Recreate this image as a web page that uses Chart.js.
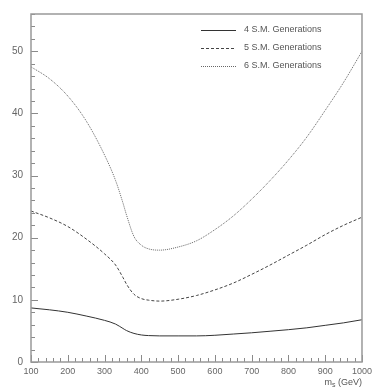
<!DOCTYPE html>
<html>
<head>
<meta charset="utf-8">
<script src="https://cdn.jsdelivr.net/npm/chart.js@4/dist/chart.umd.min.js"></script>
<style>
  body { margin: 0; background: #fff; }
  #wrap { width: 376px; height: 389px; }
</style>
</head>
<body>
<div id="wrap"><canvas id="myChart" width="376" height="389"></canvas></div>
<script>
// higgs mass points (GeV) and curves per number of generations
const massPoints = [100, 150, 200, 250, 300, 330, 350, 360, 380, 400, 420, 450, 500, 550, 600, 650, 700, 750, 800, 850, 900, 950, 1000];
const gen4 = [8.7, 8.4, 8.0, 7.4, 6.7, 6.1, 5.4, 5.05, 4.6, 4.35, 4.25, 4.2, 4.2, 4.2, 4.3, 4.5, 4.7, 4.95, 5.2, 5.5, 5.9, 6.3, 6.8];
const gen5 = [24.3, 23.2, 21.8, 19.8, 17.4, 15.6, 13.6, 12.5, 10.9, 10.2, 9.95, 9.8, 10.1, 10.7, 11.6, 12.7, 14.1, 15.6, 17.2, 18.8, 20.5, 22.0, 23.3];
const gen6 = [47.5, 45.6, 42.8, 38.8, 33.3, 29.2, 25.6, 23.6, 20.2, 18.8, 18.2, 18.0, 18.5, 19.5, 21.3, 23.5, 26.2, 29.2, 32.5, 36.2, 40.5, 45.0, 50.0];
const seriesLabels = ["4 S.M. Generations", "5 S.M. Generations", "6 S.M. Generations"];
const xTitle = "m";
const xTitleSub = "s";
const xTitleRest = " (GeV)";

const toPoints = (arr) => massPoints.map((m, i) => ({ x: m, y: arr[i] }));

const lineStyle = (label, data, color, dash) => ({
  label: label,
  data: toPoints(data),
  borderColor: color,
  borderWidth: 1,
  borderDash: dash,
  pointRadius: 0,
  fill: false,
  cubicInterpolationMode: "monotone",
});

// ticks pointing inward + frame + legend, root style
const rootStyle = {
  id: "rootStyle",
  afterDraw(chart) {
    const ctx = chart.ctx;
    const a = chart.chartArea;
    const xs = chart.scales.x;
    const ys = chart.scales.y;
    ctx.save();
    ctx.strokeStyle = "#8a8a8a";
    ctx.lineWidth = 1;
    for (let v = 100; v <= 1000; v += 20) {
      const px = Math.round(xs.getPixelForValue(v)) + 0.5;
      const len = v % 100 === 0 ? 7 : 4;
      ctx.beginPath();
      ctx.moveTo(px, a.bottom);
      ctx.lineTo(px, a.bottom - len);
      ctx.stroke();
    }
    for (let v = 0; v <= 56; v += 2) {
      const py = Math.round(ys.getPixelForValue(v)) + 0.5;
      const len = v % 10 === 0 ? 7 : 4;
      ctx.beginPath();
      ctx.moveTo(a.left, py);
      ctx.lineTo(a.left + len, py);
      ctx.stroke();
    }
    ctx.lineWidth = 1.5;
    ctx.strokeStyle = "#999";
    ctx.strokeRect(a.left, a.top, a.right - a.left, a.bottom - a.top);

    // legend
    ctx.font = "9px 'Liberation Sans'";
    ctx.textBaseline = "middle";
    chart.data.datasets.forEach((ds, i) => {
      const y = a.top + 16 + i * 18;
      ctx.strokeStyle = ds.borderColor;
      ctx.lineWidth = 1;
      ctx.setLineDash(ds.borderDash || []);
      ctx.beginPath();
      ctx.moveTo(a.left + 170, y + 0.5);
      ctx.lineTo(a.left + 205, y + 0.5);
      ctx.stroke();
      ctx.setLineDash([]);
      ctx.fillStyle = "#555";
      ctx.fillText(ds.label, a.left + 213, y);
    });

    // x axis title with subscript
    ctx.fillStyle = "#555";
    ctx.textBaseline = "alphabetic";
    ctx.textAlign = "left";
    const restW = ctx.measureText(xTitleRest).width;
    ctx.font = "7px 'Liberation Sans'";
    const subW = ctx.measureText(xTitleSub).width;
    ctx.font = "9px 'Liberation Sans'";
    const mW = ctx.measureText(xTitle).width;
    let tx = a.right - restW - subW - mW;
    const ty = a.bottom + 23;
    ctx.fillText(xTitle, tx, ty);
    ctx.font = "7px 'Liberation Sans'";
    ctx.fillText(xTitleSub, tx + mW, ty + 2);
    ctx.font = "9px 'Liberation Sans'";
    ctx.fillText(xTitleRest, tx + mW + subW, ty);
    ctx.restore();
  },
};

const ctx = document.getElementById("myChart").getContext("2d");
const myChart = new Chart(ctx, {
  type: "line",
  data: {
    datasets: [
      lineStyle(seriesLabels[0], gen4, "#333", []),
      lineStyle(seriesLabels[1], gen5, "#444", [3, 2]),
      lineStyle(seriesLabels[2], gen6, "#666", [1, 1]),
    ],
  },
  options: {
    responsive: false,
    animation: false,
    layout: { padding: { top: 9, right: 10, left: 0, bottom: 0 } },
    plugins: { legend: { display: false }, tooltip: { enabled: false } },
    scales: {
      x: {
        type: "linear",
        min: 100,
        max: 1000,
        grid: { display: false, drawTicks: false },
        border: { display: false },
        ticks: {
          stepSize: 100,
          includeBounds: false,
          maxRotation: 0,
          autoSkip: false,
          padding: 4,
          color: "#666",
          font: { family: "Liberation Sans", size: 9 },
          callback: (v) => String(v),
        },
        afterFit: (scale) => { scale.height = 27; },
      },
      y: {
        min: 0,
        max: 56,
        grid: { display: false, drawTicks: false },
        border: { display: false },
        ticks: {
          stepSize: 10,
          includeBounds: false,
          padding: 8,
          color: "#666",
          font: { family: "Liberation Sans", size: 10 },
        },
        afterFit: (scale) => { scale.width = 31; },
      },
    },
  },
  plugins: [rootStyle],
});
</script>
</body>
</html>
